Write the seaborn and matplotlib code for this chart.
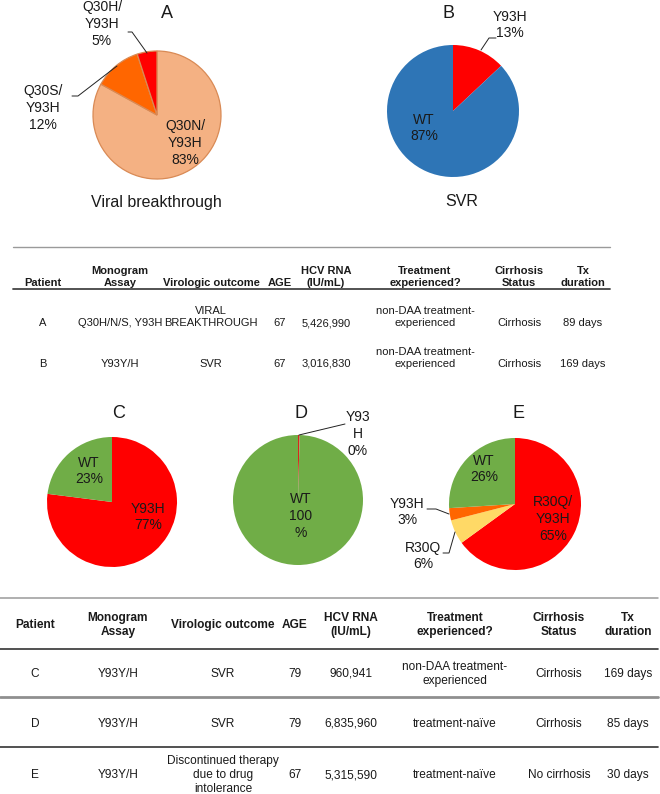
import matplotlib
matplotlib.use("Agg")
import matplotlib.pyplot as plt
import seaborn as sns

# ---- pie data (percent of reads) ----
a_values = [83, 12, 5]
a_labels = ["Q30N/\nY93H\n83%", "Q30S/\nY93H\n12%", "Q30H/\nY93H\n5%"]
a_colors = ["#F4B183", "#FF6600", "#FF0000"]

b_values = [13, 87]
b_labels = ["Y93H\n13%", "WT\n87%"]
b_colors = ["#FF0000", "#2E75B6"]

c_values = [77, 23]
c_labels = ["Y93H\n77%", "WT\n23%"]
c_colors = ["#FF0000", "#70AD47"]

d_values = [0.4, 99.6]
d_labels = ["Y93\nH\n0%", "WT\n100\n%"]
d_colors = ["#D9261C", "#70AD47"]

e_values = [65, 6, 3, 26]
e_labels = ["R30Q/\nY93H\n65%", "R30Q\n6%", "Y93H\n3%", "WT\n26%"]
e_colors = ["#FF0000", "#FFD966", "#FF6600", "#70AD47"]

# ---- table data ----
table_header = ["Patient", "Monogram\nAssay", "Virologic outcome", "AGE", "HCV RNA\n(IU/mL)",
                "Treatment\nexperienced?", "Cirrhosis\nStatus", "Tx\nduration"]
table1_rows = [
    ["A", "Q30H/N/S, Y93H", "VIRAL\nBREAKTHROUGH", "67", "5,426,990",
     "non-DAA treatment-\nexperienced", "Cirrhosis", "89 days"],
    ["B", "Y93Y/H", "SVR", "67", "3,016,830",
     "non-DAA treatment-\nexperienced", "Cirrhosis", "169 days"],
]
table2_rows = [
    ["C", "Y93Y/H", "SVR", "79", "960,941",
     "non-DAA treatment-\nexperienced", "Cirrhosis", "169 days"],
    ["D", "Y93Y/H", "SVR", "79", "6,835,960", "treatment-naïve", "Cirrhosis", "85 days"],
    ["E", "Y93Y/H", "Discontinued therapy\ndue to drug\nintolerance", "67", "5,315,590",
     "treatment-naïve", "No cirrhosis", "30 days"],
]

W, H = 660, 794
TXT = "#1a1a1a"

sns.set_theme(style="white")
plt.rcParams["font.family"] = ["Liberation Sans", "DejaVu Sans"]

fig = plt.figure(figsize=(W / 100, H / 100), dpi=100)


def draw_pie(cx, cy, r, values, colors, edge=None):
    pad = 1.05
    ax = fig.add_axes([(cx - r * pad) / W, 1 - (cy + r * pad) / H, 2 * r * pad / W, 2 * r * pad / H])
    ax.pie(values, colors=colors, startangle=90, counterclock=False,
           wedgeprops=dict(edgecolor=edge if edge else "none", linewidth=0.9 if edge else 0))
    ax.set_xlim(-pad, pad)
    ax.set_ylim(-pad, pad)
    ax.axis("off")
    return ax


draw_pie(157, 115, 64, a_values, a_colors, edge="#D98A55")
draw_pie(453, 111, 66, b_values, b_colors)
draw_pie(112, 502, 65, c_values, c_colors)
draw_pie(298, 500, 65, d_values, d_colors)
draw_pie(515, 504, 66, e_values, e_colors)

# overlay axes in pixel coordinates for text, tables and leader lines
ov = fig.add_axes([0, 0, 1, 1])
ov.set_xlim(0, W)
ov.set_ylim(H, 0)
ov.axis("off")
ov.set_zorder(5)


def lab(x, y, s, size=10, **kw):
    ov.text(x, y, s, ha="center", va="center", fontsize=size, color=TXT, linespacing=1.25, **kw)


def leader(xs, ys):
    ov.plot(xs, ys, color="#222222", lw=0.7)


# panel titles
for x, y, t in [(167, 13, "A"), (449, 13, "B"), (119, 413, "C"), (301, 413, "D"), (519, 413, "E")]:
    lab(x, y, t, size=13)
lab(156, 202, "Viral breakthrough", size=11.5)
lab(462, 202, "SVR", size=11.5)

# pie labels
lab(185, 143, a_labels[0])
lab(43, 108, a_labels[1])
lab(102, 24, a_labels[2])
leader([72, 78, 117], [96, 96, 66])
leader([128, 132, 147], [32, 32, 53])

lab(510, 25, b_labels[0])
lab(424, 128, b_labels[1])
leader([496, 489, 481], [38, 38, 50])

lab(148, 517, c_labels[0])
lab(89, 471, c_labels[1])

lab(358, 434, d_labels[0])
lab(301, 516, d_labels[1])
leader([299, 345], [435, 424])

lab(553, 519, e_labels[0])
lab(423, 556, e_labels[1])
lab(407, 512, e_labels[2])
lab(484, 469, e_labels[3])
leader([427, 436, 449], [509, 509, 514])
leader([443, 449, 455], [553, 553, 532])

# ---- table 1 ----
t1_x = [43, 120, 211, 280, 326, 425, 519, 583]
ov.plot([13, 610], [247, 247], color="#9a9a9a", lw=1.0)
ov.plot([13, 610], [288.5, 288.5], color="#444444", lw=1.3)
for x, s in zip(t1_x, table_header):
    ov.text(x, 288, s, ha="center", va="bottom", fontsize=8, fontweight="bold", color=TXT)
for y, row in zip([328, 369], table1_rows):
    for x, s in zip(t1_x, row):
        ov.text(x, y, s, ha="center", va="bottom", fontsize=8, color=TXT)

# ---- table 2 ----
t2_x = [35, 118, 223, 295, 351, 455, 559, 628]
ov.plot([0, 658], [598, 598], color="#9a9a9a", lw=1.1)
ov.plot([0, 658], [649, 649], color="#333333", lw=1.2)
ov.plot([0, 658], [697, 697], color="#8f8f8f", lw=2.0)
ov.plot([0, 658], [747, 747], color="#333333", lw=1.2)
for x, s in zip(t2_x, table_header):
    ov.text(x, 625, s, ha="center", va="center", fontsize=8.6, fontweight="bold", color=TXT)
for y, row in zip([674, 724, 775], table2_rows):
    for x, s in zip(t2_x, row):
        ov.text(x, y, s, ha="center", va="center", fontsize=8.6, color=TXT)

plt.savefig("out.png", dpi=100)
